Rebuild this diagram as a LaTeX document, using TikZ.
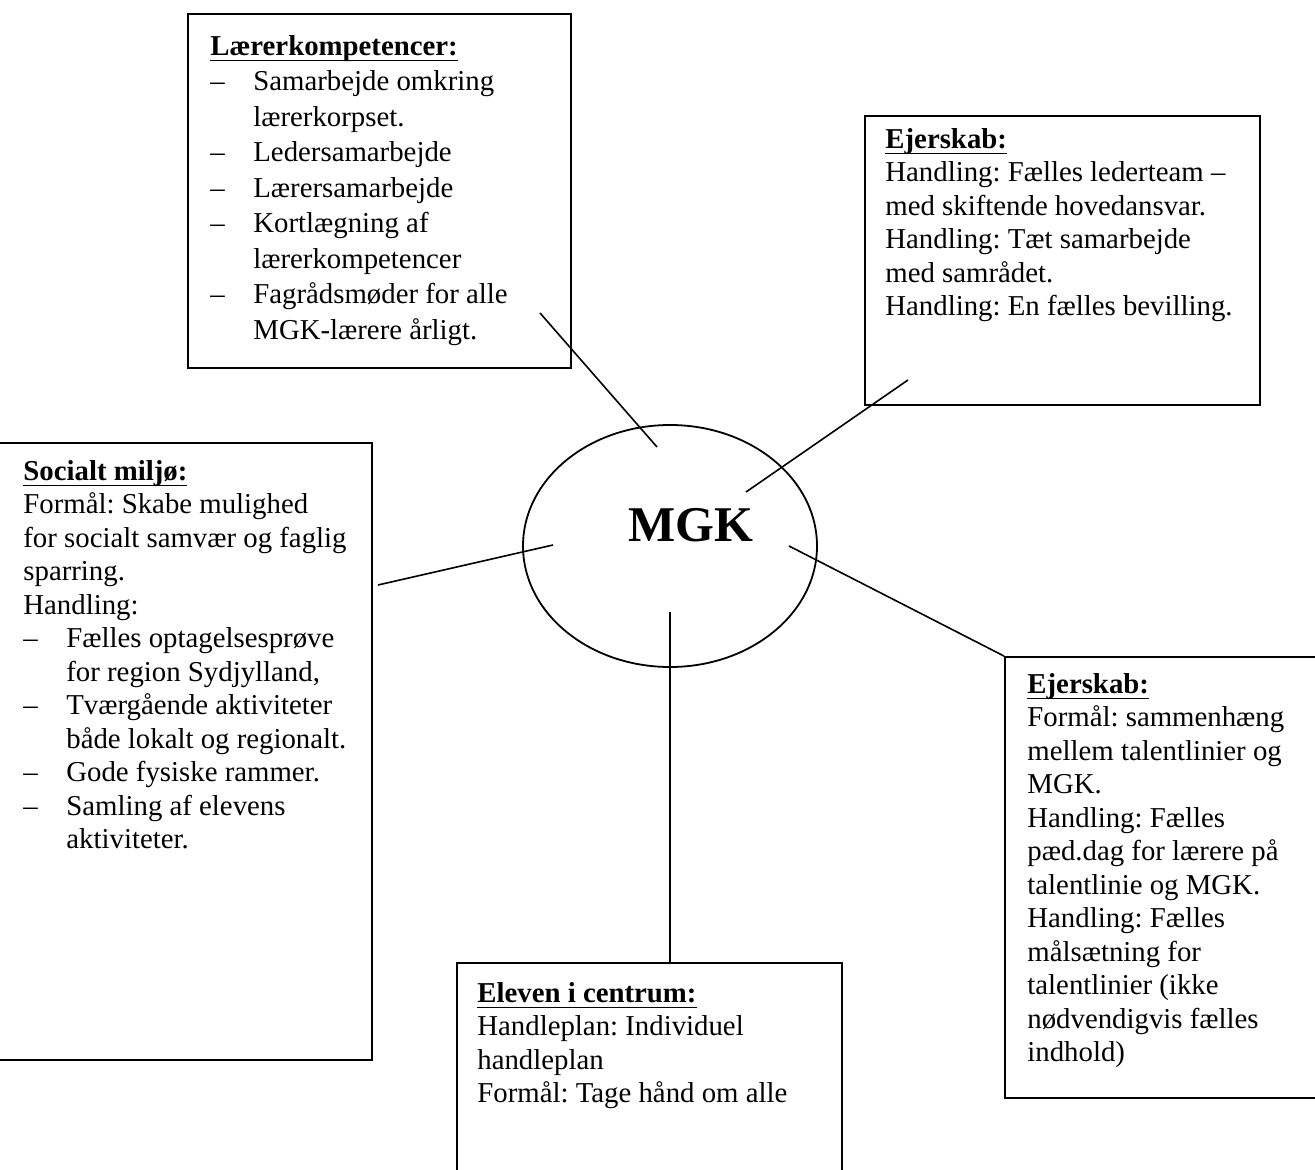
\documentclass[tikz,border=0pt]{standalone}
\usepackage{fontspec}
\setmainfont{Liberation Serif}
\usetikzlibrary{fit,shapes.geometric}

\newcommand{\dsh}{\makebox[21.5pt][l]{--}}
\newcommand{\ind}{\hspace*{21.5pt}}
\newcommand{\hd}[1]{\setbox0\hbox{\textbf{#1}}\rlap{\rule[-3pt]{\wd0}{0.8pt}}\box0}

\begin{document}
\frenchspacing
\begin{tikzpicture}[x=0.5pt,y=-0.5pt,
    box/.style={draw,rectangle,line width=0.9pt,inner sep=0pt},
    txt/.style={anchor=north west,inner sep=0pt,align=left,font=\fontsize{14.4}{16.75}\selectfont},
    hub/.style={draw,ellipse,line width=0.9pt,minimum width=147pt,minimum height=121pt,inner sep=0pt},
    link/.style={line width=0.8pt}]
    \useasboundingbox (0,0) rectangle (1315,1170);
    \clip (0,0) rectangle (1315,1170);

    % frames
    \node[box,fit={(188,14) (571,368)}]    (laerer) {};
    \node[box,fit={(865,116) (1260,405)}]  (ejer1)  {};
    \node[box,fit={(-10,443) (372,1060)}]  (social) {};
    \node[box,fit={(1005,657) (1330,1098)}] (ejer2) {};
    \node[box,fit={(457,963) (842,1185)}]  (elev)   {};
    \node[hub] (mgk) at (670,546) {};
    \node[inner sep=0pt,font=\bfseries\fontsize{25}{30}\selectfont] (mgklbl) at (691,525) {MGK};

    % texts
    \node[txt,font=\fontsize{14.4}{17.75}\selectfont] (laerertxt) at (210,35) {%
      \hd{Lærerkompetencer:}\\
      \dsh Samarbejde omkring\\
      \ind lærerkorpset.\\
      \dsh Ledersamarbejde\\
      \dsh Lærersamarbejde\\
      \dsh Kortlægning af\\
      \ind lærerkompetencer\\
      \dsh Fagrådsmøder for alle\\
      \ind MGK-lærere årligt.};
    \node[txt] (ejer1txt) at (885,128) {%
      \hd{Ejerskab:}\\
      Handling: Fælles lederteam --\\
      med skiftende hovedansvar.\\
      Handling: Tæt samarbejde\\
      med samrådet.\\
      Handling: En fælles bevilling.};
    \node[txt] (socialtxt) at (23,460) {%
      \hd{Socialt miljø:}\\
      Formål: Skabe mulighed\\
      for socialt samvær og faglig\\
      sparring.\\
      Handling:\\
      \dsh Fælles optagelsesprøve\\
      \ind for region Sydjylland,\\
      \dsh Tværgående aktiviteter\\
      \ind både lokalt og regionalt.\\
      \dsh Gode fysiske rammer.\\
      \dsh Samling af elevens\\
      \ind aktiviteter.};
    \node[txt] (ejer2txt) at (1027,673) {%
      \hd{Ejerskab:}\\
      Formål: sammenhæng\\
      mellem talentlinier og\\
      MGK.\\
      Handling: Fælles\\
      pæd.dag for lærere på\\
      talentlinie og MGK.\\
      Handling: Fælles\\
      målsætning for\\
      talentlinier (ikke\\
      nødvendigvis fælles\\
      indhold)};
    \node[txt] (eleventxt) at (477,982) {%
      \hd{Eleven i centrum:}\\
      Handleplan: Individuel\\
      handleplan\\
      Formål: Tage hånd om alle};

    % connector ends
    \coordinate (laererend) at (540,313);
    \coordinate (mgkn)      at (657,447);
    \coordinate (ejer1end)  at (908,380);
    \coordinate (mgkne)     at (746,492);
    \coordinate (socialend) at (378,585);
    \coordinate (mgkw)      at (553,545);
    \coordinate (mgke)      at (789,546);
    \coordinate (mgks)      at (670,612);
    \coordinate (elevend)   at (670,963);

    \draw[link] (laererend) -- (mgkn);
    \draw[link] (ejer1end) -- (mgkne);
    \draw[link] (socialend) -- (mgkw);
    \draw[link] (mgke) -- (ejer2.north west);
    \draw[link] (mgks) -- (elevend);
\end{tikzpicture}
\end{document}
